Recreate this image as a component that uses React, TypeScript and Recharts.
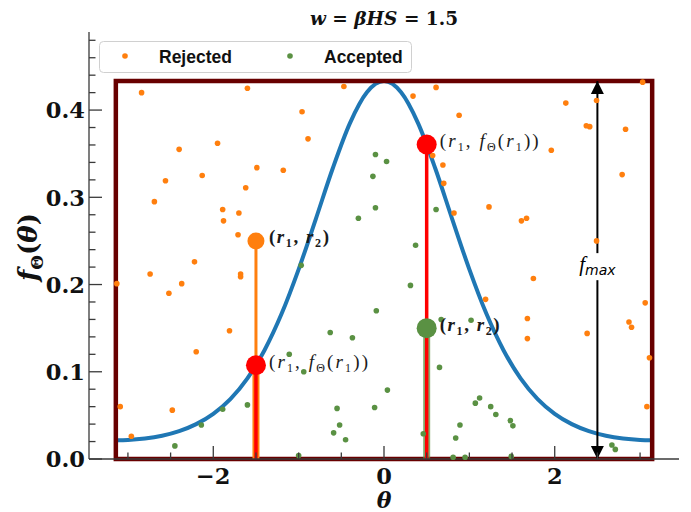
import React from "react";
import { ComposedChart, XAxis, YAxis, Line, Scatter } from "recharts";

const W = 691;
const H = 512;

// axes
const thetaDomain = [-3.456, 3.456];
const fDomain = [0, 0.4895];
const xTicks = [-3, -2.5, -2, -1.5, -1, -0.5, 0, 0.5, 1, 1.5, 2, 2.5, 3];
const xMajor = [-2, 0, 2];
const yTicks = [
  0, 0.02, 0.04, 0.06, 0.08, 0.1, 0.12, 0.14, 0.16, 0.18, 0.2, 0.22, 0.24,
  0.26, 0.28, 0.3, 0.32, 0.34, 0.36, 0.38, 0.4, 0.42, 0.44, 0.46, 0.48,
];
const yMajor = [0, 0.1, 0.2, 0.3, 0.4];

// density curve f(theta)
const curveTheta = [
  -3.1416, -3.0, -2.8, -2.6, -2.4, -2.2, -2.0, -1.8, -1.6, -1.4, -1.2, -1.0,
  -0.8, -0.6, -0.4, -0.2, 0, 0.2, 0.4, 0.6, 0.8, 1.0, 1.2, 1.4, 1.6, 1.8, 2.0,
  2.2, 2.4, 2.6, 2.8, 3.0, 3.1416,
];
const curveF = [
  0.0216, 0.0219, 0.0235, 0.0267, 0.032, 0.04, 0.0518, 0.0687, 0.0925, 0.1247,
  0.1664, 0.2174, 0.2748, 0.3333, 0.3848, 0.4204, 0.4332, 0.4204, 0.3848,
  0.3333, 0.2748, 0.2174, 0.1664, 0.1247, 0.0925, 0.0687, 0.0518, 0.04, 0.032,
  0.0267, 0.0235, 0.0219, 0.0216,
];

// sampled points (theta, u)
const rejected: [number, number][] = [
  [-2.84, 0.42], [-1.6, 0.425], [-1.95, 0.362], [-2.4, 0.355], [-2.13, 0.325],
  [-2.56, 0.319], [-1.62, 0.311], [-2.69, 0.295], [-1.89, 0.286], [-1.7, 0.282],
  [-1.88, 0.273], [-1.71, 0.257], [-2.22, 0.226], [-0.47, 0.427], [-0.96, 0.398],
  [-0.89, 0.367], [-1.49, 0.334], [-1.18, 0.331], [0.61, 0.426], [0.34, 0.416],
  [0.88, 0.394], [0.57, 0.348], [0.69, 0.337], [0.7, 0.316], [0.82, 0.282],
  [1.23, 0.289], [1.61, 0.273], [1.67, 0.276], [3.03, 0.432], [2.13, 0.408],
  [2.49, 0.411], [2.37, 0.382], [2.41, 0.381], [2.83, 0.378], [1.96, 0.354],
  [2.79, 0.326], [2.49, 0.25], [-2.74, 0.212], [-2.37, 0.201], [-2.52, 0.19],
  [-3.13, 0.201], [-1.68, 0.212], [-1.68, 0.209], [-1.81, 0.147], [-2.2, 0.123],
  [-3.09, 0.06], [-2.48, 0.056], [-2.96, 0.026], [1.19, 0.183], [1.75, 0.207],
  [1.68, 0.161], [1.68, 0.138], [2.38, 0.144], [3.06, 0.179], [2.87, 0.157],
  [2.9, 0.151], [3.11, 0.116], [3.08, 0.06],
];
const accepted: [number, number][] = [
  [-0.1, 0.349], [0.03, 0.341], [-0.13, 0.324], [-0.1, 0.288], [-0.3, 0.276],
  [-0.97, 0.222], [0.61, 0.286], [0.37, 0.245], [-1.89, 0.057], [-1.6, 0.062],
  [-2.14, 0.039], [-2.45, 0.015], [-0.09, 0.17], [-0.63, 0.145], [-0.37, 0.139],
  [-1.11, 0.12], [-0.94, 0.1], [0.04, 0.079], [-0.55, 0.058], [-0.11, 0.059],
  [-0.52, 0.039], [-0.59, 0.03], [-0.45, 0.022], [-1.0, 0.004], [0.31, 0.199],
  [0.67, 0.16], [1.02, 0.159], [0.65, 0.105], [1.12, 0.07], [1.07, 0.064],
  [1.25, 0.06], [1.31, 0.051], [1.48, 0.044], [1.51, 0.038], [0.89, 0.039],
  [0.84, 0.024], [0.46, 0.029], [0.81, 0.002], [0.95, 0.002], [1.49, 0.003],
  [2.67, 0.016], [2.71, 0.011],
];

// envelope box and the two worked examples
const FMAX = 0.4332;
const PI = 3.1416;
const boxCorners: [number, number][] = [
  [-PI, 0], [-PI, FMAX], [PI, FMAX], [PI, 0], [-PI, 0],
];
const leftR1 = -1.5;
const leftR2 = 0.25;
const leftF = 0.1075;
const rightR1 = 0.5;
const rightR2 = 0.15;
const rightF = 0.3605;
const fmaxX = 2.5;
const fmaxLabelY = 0.221;

const ORANGE = "#ff7f0e";
const GREEN = "#5a9143";
const RED = "#ff0000";
const BLUE = "#1f77b4";
const BOX = "#680000";
const FRAME = "#3a3a3a";

const pts = (a: [number, number][]) => a.map(([x, y]) => ({ x, y }));
const seg = (x: number, y0: number, y1: number) => [
  { x, y: y0 },
  { x, y: y1 },
];

const curveData = curveTheta.map((x, i) => ({ x, y: curveF[i] }));
const rejectedData = pts(rejected);
const acceptedData = pts(accepted);
const boxData = pts(boxCorners);
const orangePick = [{ x: leftR1, y: leftR2, kind: "r2" }];
const greenPick = [{ x: rightR1, y: rightR2, kind: "r2" }];
const redPicks = [
  { x: leftR1, y: leftF, kind: "f" },
  { x: rightR1, y: rightF, kind: "f" },
];
const arrowUp = [
  { x: fmaxX, y: 0.236 },
  { x: fmaxX, y: FMAX, head: "up" },
];
const arrowDown = [
  { x: fmaxX, y: 0.205 },
  { x: fmaxX, y: 0, head: "down" },
];
const fmaxLabel = [{ x: fmaxX, y: fmaxLabelY }];

const near = (v: number, list: number[]) =>
  list.some((m) => Math.abs(m - v) < 1e-9);
const fmtX = (v: number) => (v < 0 ? "\u2212" + Math.abs(v) : String(v));

const tickFont = {
  fontFamily: "DejaVu Serif",
  fontWeight: "bold" as const,
  fontSize: 22.5,
  fill: "#111",
};

function BottomTick(props: any) {
  const { x, y, payload } = props;
  const major = near(payload.value, xMajor);
  return (
    <g>
      <line x1={x} x2={x} y1={y} y2={y - (major ? 13 : 6.5)} stroke={FRAME} strokeWidth={1.3} />
      {major && (
        <text x={x} y={y + 25} textAnchor="middle" {...tickFont}>
          {fmtX(payload.value)}
        </text>
      )}
    </g>
  );
}

function TopTick(props: any) {
  const { x, y, payload } = props;
  const major = near(payload.value, xMajor);
  return <line x1={x} x2={x} y1={y} y2={y + (major ? 13 : 6.5)} stroke={FRAME} strokeWidth={1.3} />;
}

function LeftTick(props: any) {
  const { x, y, payload } = props;
  const major = near(payload.value, yMajor);
  return (
    <g>
      <line x1={x} x2={x + (major ? 13 : 6.5)} y1={y} y2={y} stroke={FRAME} strokeWidth={1.3} />
      {major && (
        <text x={x - 4} y={y + 8.2} textAnchor="end" {...tickFont}>
          {payload.value.toFixed(1)}
        </text>
      )}
    </g>
  );
}

function RightTick(props: any) {
  const { x, y, payload } = props;
  const major = near(payload.value, yMajor);
  return <line x1={x} x2={x - (major ? 13 : 6.5)} y1={y} y2={y} stroke={FRAME} strokeWidth={1.3} />;
}

function PickLabel({ x, y, kind }: { x: number; y: number; kind: string }) {
  const base = {
    fontFamily: "Liberation Serif",
    fontSize: 19,
    fill: "#1a1a1a",
  };
  if (kind === "r2") {
    return (
      <text x={x} y={y} {...base} fontWeight="bold" textLength={60} lengthAdjust="spacing">
        (<tspan fontStyle="italic">r</tspan>
        <tspan dy={4} fontSize={12}>1</tspan>
        <tspan dy={-4}>, </tspan>
        <tspan fontStyle="italic">r</tspan>
        <tspan dy={4} fontSize={12}>2</tspan>
        <tspan dy={-4}>)</tspan>
      </text>
    );
  }
  return (
    <text x={x} y={y} {...base} textLength={99} lengthAdjust="spacing">
      (<tspan fontStyle="italic">r</tspan>
      <tspan dy={4} fontSize={12}>1</tspan>
      <tspan dy={-4}>, </tspan>
      <tspan fontStyle="italic">f</tspan>
      <tspan dy={4} fontSize={12}>Θ</tspan>
      <tspan dy={-4}>(</tspan>
      <tspan fontStyle="italic">r</tspan>
      <tspan dy={4} fontSize={12}>1</tspan>
      <tspan dy={-4}>))</tspan>
    </text>
  );
}

const smallDot = (color: string) => (p: any) =>
  <circle cx={p.cx} cy={p.cy} r={2.8} fill={color} />;

const bigDot = (color: string, r: number) => (p: any) => (
  <g>
    <circle cx={p.cx} cy={p.cy} r={r} fill={color} />
    <PickLabel x={p.cx + 13} y={p.cy + 2.5} kind={p.payload.kind} />
  </g>
);

function ArrowHead(p: any) {
  const { cx, cy, payload, index } = p;
  if (!payload || !payload.head) return <g key={`a-${index}`} />;
  const d = payload.head === "up" ? 1 : -1;
  return (
    <path
      key={`a-${index}`}
      d={`M${cx},${cy} L${cx - 6.5},${cy + d * 13} L${cx + 6.5},${cy + d * 13} Z`}
      fill="#000"
    />
  );
}

const FmaxText = (p: any) => (
  <text x={p.cx} y={p.cy + 5} textAnchor="middle" fill="#000">
    <tspan fontFamily="Liberation Serif" fontStyle="italic" fontSize={21}>f</tspan>
    <tspan fontFamily="DejaVu Sans" fontStyle="italic" fontSize={14} dy={4}>max</tspan>
  </text>
);

export default function App() {
  return (
    <div style={{ position: "absolute", left: 0, top: 0, width: W, height: H, background: "#fff" }}>
      <ComposedChart width={W} height={H} margin={{ top: 32, right: 12, bottom: 0, left: 29 }}>
        <XAxis
          type="number"
          dataKey="x"
          domain={thetaDomain}
          ticks={xTicks}
          interval={0}
          height={53}
          tickSize={0}
          tickMargin={0}
          tickLine={false}
          tick={BottomTick}
          axisLine={{ stroke: FRAME, strokeWidth: 1.3 }}
        />
        <XAxis
          xAxisId="top"
          orientation="top"
          type="number"
          dataKey="x"
          domain={thetaDomain}
          ticks={xTicks}
          interval={0}
          height={0}
          tickSize={0}
          tickMargin={0}
          tickLine={false}
          tick={TopTick}
          axisLine={{ stroke: FRAME, strokeWidth: 1.3 }}
        />
        <YAxis
          type="number"
          dataKey="y"
          domain={fDomain}
          ticks={yTicks}
          interval={0}
          width={60}
          tickSize={0}
          tickMargin={0}
          tickLine={false}
          tick={LeftTick}
          axisLine={{ stroke: FRAME, strokeWidth: 1.3 }}
        />
        <YAxis
          yAxisId="right"
          orientation="right"
          type="number"
          dataKey="y"
          domain={fDomain}
          ticks={yTicks}
          interval={0}
          width={0}
          tickSize={0}
          tickMargin={0}
          tickLine={false}
          tick={RightTick}
          axisLine={{ stroke: FRAME, strokeWidth: 1.3 }}
        />

        <Scatter data={rejectedData} shape={smallDot(ORANGE)} isAnimationActive={false} />
        <Scatter data={acceptedData} shape={smallDot(GREEN)} isAnimationActive={false} />

        <Line data={curveData} dataKey="y" type="monotone" stroke={BLUE} strokeWidth={4} dot={false} activeDot={false} isAnimationActive={false} />
        <Line data={boxData} dataKey="y" type="linear" stroke={BOX} strokeWidth={4.5} strokeLinecap="square" strokeLinejoin="miter" dot={false} activeDot={false} isAnimationActive={false} />

        <Line data={seg(leftR1, 0, leftR2)} dataKey="y" stroke={ORANGE} strokeWidth={3} dot={false} activeDot={false} isAnimationActive={false} />
        <Line data={seg(leftR1, 0, leftF)} dataKey="y" stroke={ORANGE} strokeWidth={7} dot={false} activeDot={false} isAnimationActive={false} />
        <Line data={seg(leftR1, 0, leftF)} dataKey="y" stroke={RED} strokeWidth={3.5} dot={false} activeDot={false} isAnimationActive={false} />
        <Line data={seg(rightR1, 0, rightR2)} dataKey="y" stroke={GREEN} strokeOpacity={0.75} strokeWidth={7} dot={false} activeDot={false} isAnimationActive={false} />
        <Line data={seg(rightR1, 0, rightF)} dataKey="y" stroke={RED} strokeWidth={3.5} dot={false} activeDot={false} isAnimationActive={false} />

        <Line data={arrowUp} dataKey="y" stroke="#000" strokeWidth={2} dot={ArrowHead} activeDot={false} isAnimationActive={false} />
        <Line data={arrowDown} dataKey="y" stroke="#000" strokeWidth={2} dot={ArrowHead} activeDot={false} isAnimationActive={false} />

        <Scatter data={orangePick} shape={bigDot(ORANGE, 8.5)} isAnimationActive={false} />
        <Scatter data={greenPick} shape={bigDot(GREEN, 10)} isAnimationActive={false} />
        <Scatter data={redPicks} shape={bigDot(RED, 10)} isAnimationActive={false} />
        <Scatter data={fmaxLabel} shape={FmaxText} isAnimationActive={false} />
      </ComposedChart>

      <svg width={W} height={H} style={{ position: "absolute", left: 0, top: 0, pointerEvents: "none" }}>
        <text
          x={384}
          y={25}
          textAnchor="middle"
          fontFamily="DejaVu Serif"
          fontWeight="bold"
          fontSize={18.5}
          fill="#111"
        >
          <tspan fontStyle="italic">w</tspan> = <tspan fontStyle="italic">βHS</tspan> = 1.5
        </text>

        <text x={384} y={508} textAnchor="middle" fontFamily="DejaVu Serif" fontWeight="bold" fontStyle="italic" fontSize={22} fill="#111">
          θ
        </text>

        <text
          transform="translate(37,247) rotate(-90)"
          textAnchor="middle"
          fontFamily="DejaVu Serif"
          fontWeight="bold"
          fontSize={26}
          fill="#111"
        >
          <tspan fontStyle="italic">f</tspan>
          <tspan dy={6} fontSize={17}>Θ</tspan>
          <tspan dy={-6}>(</tspan>
          <tspan fontStyle="italic">θ</tspan>)
        </text>

        <rect x={99.5} y={41.5} width={312} height={31} rx={4} fill="#fff" fillOpacity={0.8} stroke="#d0d0d0" />
        <circle cx={125} cy={56} r={2.8} fill={ORANGE} />
        <text x={159} y={62.5} fontFamily="Liberation Sans" fontWeight="bold" fontSize={17.5} fill="#111">
          Rejected
        </text>
        <circle cx={290} cy={56} r={2.8} fill={GREEN} />
        <text x={324} y={62.5} fontFamily="Liberation Sans" fontWeight="bold" fontSize={17.5} fill="#111">
          Accepted
        </text>
      </svg>
    </div>
  );
}
